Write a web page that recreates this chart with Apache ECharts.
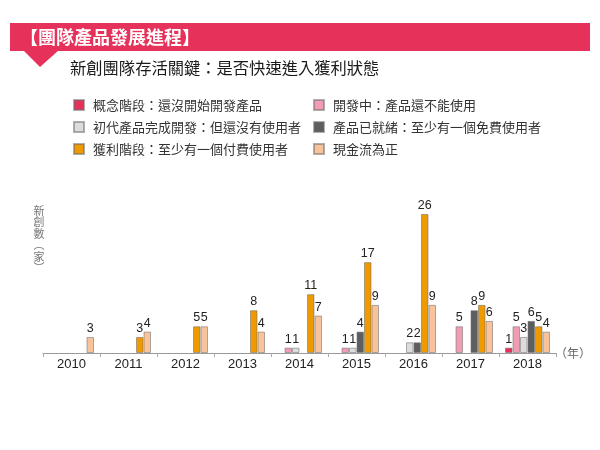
<!DOCTYPE html>
<html>
<head>
<meta charset="utf-8">
<script src="https://cdn.jsdelivr.net/npm/echarts@6/dist/echarts.min.js"></script>
<style>
html,body{margin:0;padding:0;background:#fff;}
#chart{width:600px;height:450px;}
</style>
</head>
<body>
<div id="chart"></div>
<script>
var years = ['2010','2011','2012','2013','2014','2015','2016','2017','2018'];
var seriesNames = [
  '概念階段：還沒開始開發產品',
  '開發中：產品還不能使用',
  '初代產品完成開發：但還沒有使用者',
  '產品已就緒：至少有一個免費使用者',
  '獲利階段：至少有一個付費使用者',
  '現金流為正'
];
var conceptStage   = [null, null, null, null, null, null, null, null, 1];
var developing     = [null, null, null, null, 1, 1, null, 5, 5];
var firstProduct   = [null, null, null, null, 1, 1, 2, null, 3];
var productReady   = [null, null, null, null, null, 4, 2, 8, 6];
var profitStage    = [null, 3, 5, 8, 11, 17, 26, 9, 5];
var positiveCash   = [3, 4, 5, 4, 7, 9, 9, 6, 4];
var seriesValues = [conceptStage, developing, firstProduct, productReady, profitStage, positiveCash];
var colors = ['#E5305A', '#F19CB2', '#DCDCDC', '#5E5E5E', '#EE9A00', '#F8C39B'];

var FONT = '"Noto Sans CJK TC", "Noto Sans", sans-serif';
var NUMFONT = '"Liberation Sans", Arial, sans-serif';
var chart = echarts.init(document.getElementById('chart'));

var series = seriesValues.map(function (vals, i) {
  return {
    name: seriesNames[i],
    type: 'bar',
    data: vals,
    barWidth: 7.5,
    barGap: '0%',
    itemStyle: { color: colors[i], borderColor: 'rgba(110,110,110,0.55)', borderWidth: 1 },
    label: {
      show: true, position: 'top', distance: 2,
      color: '#222', fontSize: 12.5, fontFamily: NUMFONT
    },
    emphasis: { disabled: true }
  };
});

var legendCommon = {
  orient: 'vertical', itemWidth: 10, itemHeight: 10, itemGap: 8, icon: 'rect', padding: 0,
  textStyle: { fontSize: 13, color: '#333', fontFamily: FONT, lineHeight: 14, padding: [0, 0, 0, 4] },
  selectedMode: false
};

chart.setOption({
  animation: false,
  color: colors,
  textStyle: { fontFamily: FONT },
  grid: { left: 43, right: 44, top: 214, bottom: 97 },
  legend: [
    Object.assign({ left: 73, top: 98, data: [seriesNames[0], seriesNames[2], seriesNames[4]] }, legendCommon),
    Object.assign({ left: 313, top: 98, data: [seriesNames[1], seriesNames[3], seriesNames[5]] }, legendCommon)
  ],
  xAxis: {
    type: 'category', data: years,
    axisLine: { lineStyle: { color: '#999', width: 1 } },
    axisTick: { show: true, length: 4, lineStyle: { color: '#aaa' } },
    axisLabel: { color: '#222', fontSize: 13, margin: 5, fontFamily: NUMFONT }
  },
  yAxis: { type: 'value', min: 0, max: 26, show: false },
  series: series,
  graphic: [
    { type: 'rect', shape: { x: 10, y: 23, width: 580, height: 28 }, style: { fill: '#E6325A' }, silent: true },
    { type: 'polygon', shape: { points: [[23, 50], [59, 50], [40, 67]] }, style: { fill: '#E6325A' }, silent: true },
    { type: 'text', x: 20, y: 37, style: { text: '【團隊產品發展進程】', fill: '#fff', font: 'bold 18px ' + FONT, textVerticalAlign: 'middle' }, silent: true },
    { type: 'text', x: 70, y: 68, style: { text: '新創團隊存活關鍵：是否快速進入獲利狀態', fill: '#1a1a1a', font: '16.3px ' + FONT, textVerticalAlign: 'middle' }, silent: true },
    { type: 'text', x: 39, y: 205, style: { text: '新\n創\n數\n︵\n家\n︶', fill: '#777', font: '11px ' + FONT, lineHeight: 11.5, textAlign: 'center', textVerticalAlign: 'top' }, silent: true },
    { type: 'text', x: 555, y: 353, style: { text: '（年）', fill: '#666', font: '12px ' + FONT, textVerticalAlign: 'middle' }, silent: true }
  ]
});
</script>
</body>
</html>
